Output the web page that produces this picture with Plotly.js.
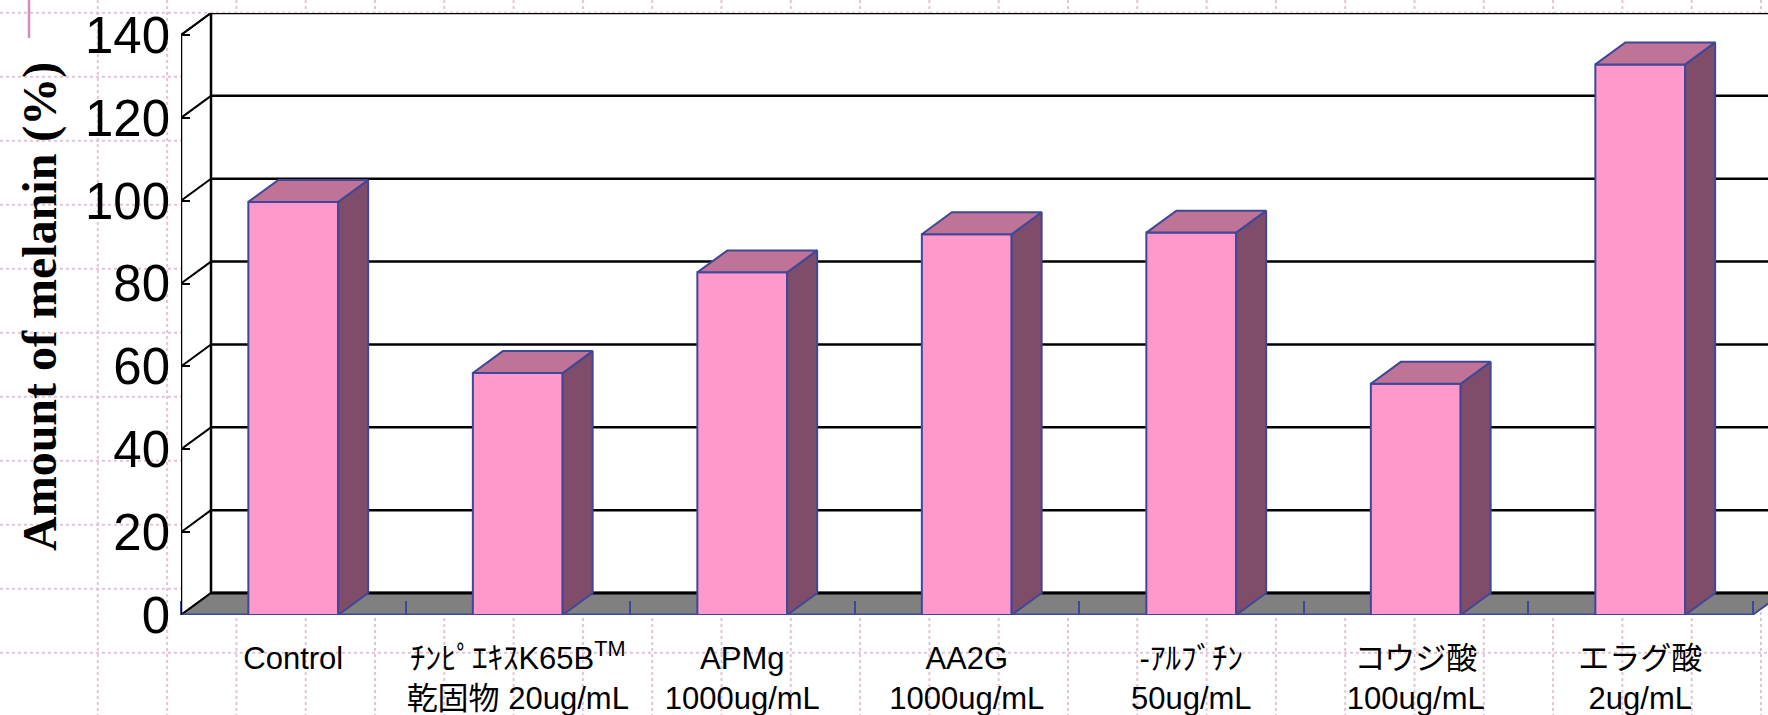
<!DOCTYPE html>
<html>
<head>
<meta charset="utf-8">
<script src="https://cdn.plot.ly/plotly-3.0.1.min.js"></script>
<style>html,body{margin:0;padding:0;background:#fff;}#chart{width:1768px;height:715px;}</style>
</head>
<body>
<div id="chart"></div>
<script>
// ---- data ----
const categories = ['Control', 'ﾁﾝﾋﾟｴｷｽK65B<sup>TM</sup>', 'APMg', 'AA2G', '-ｱﾙﾌﾞﾁﾝ', 'コウジ酸', 'エラグ酸'];
const doses = ['', '乾固物 20ug/mL', '1000ug/mL', '1000ug/mL', '50ug/mL', '100ug/mL', '2ug/mL'];
const melanin = [99.7, 58.4, 82.7, 91.9, 92.3, 55.8, 132.9];
const yTicks = [0, 20, 40, 60, 80, 100, 120, 140];

// ---- geometry / style ----
const W = 1768, H = 715;
const ML = 181, MR = 0, MT = 13, MB = 100;
const plotW = W - ML - MR, plotH = H - MT - MB;
const catPx = 224.5;
const YMAX = 140;
const DX = 30 / catPx;          // depth offset in x units
const DY = 5.3;                 // depth offset in y units
const yTop = YMAX + DY;
const xMaxRange = plotW / catPx;
const N = categories.length;
const BW = 0.4;

const FRONT = '#FF99CC', TOP = '#BF7396', SIDE = '#7F4D69', EDGE = '#3F4896';
const FONT = 'Liberation Sans, Arial, Noto Sans CJK JP, sans-serif';

const xc = categories.map((_, i) => i + 0.5);
const tickText = categories.map((c, i) => doses[i] ? c + '<br>' + doses[i] : c);

// top and side faces from the values
const topX = [], topY = [], sideX = [], sideY = [];
melanin.forEach((v, i) => {
  const l = xc[i] - BW / 2, r = xc[i] + BW / 2;
  topX.push(l, r, r + DX, l + DX, l, null);
  topY.push(v, v, v + DY, v + DY, v, null);
  sideX.push(r, r + DX, r + DX, r, r, null);
  sideY.push(0, DY, v + DY, v, 0, null);
});

const traces = [
  {type: 'scatter', mode: 'lines', x: sideX, y: sideY, fill: 'toself', fillcolor: SIDE,
   line: {color: EDGE, width: 2}, hoverinfo: 'skip', showlegend: false},
  {type: 'scatter', mode: 'lines', x: topX, y: topY, fill: 'toself', fillcolor: TOP,
   line: {color: EDGE, width: 2}, hoverinfo: 'skip', showlegend: false},
  {type: 'bar', x: xc, y: melanin, width: BW, marker: {color: FRONT, line: {color: EDGE, width: 2}},
   showlegend: false, hoverinfo: 'y'}
];

// ---- decorative background grid (paper) ----
const shapes = [];
const px2x = px => (px - ML) / plotW;
const py2y = py => (H - MB - py) / plotH;
const gridCol = 'rgba(220,180,205,0.8)';
for (let px = 28.5 + 69.3; px < W; px += 69.3) {
  shapes.push({type: 'line', xref: 'paper', yref: 'paper', x0: px2x(px), x1: px2x(px), y0: py2y(0), y1: py2y(H),
    line: {color: gridCol, width: 2, dash: 'dot'}, layer: 'below'});
}
for (let py = 12.7; py < H; py += 64) {
  shapes.push({type: 'line', xref: 'paper', yref: 'paper', x0: px2x(0), x1: px2x(W), y0: py2y(py), y1: py2y(py),
    line: {color: gridCol, width: 2, dash: 'dot'}, layer: 'below'});
}
shapes.push({type: 'line', xref: 'paper', yref: 'paper', x0: px2x(29), x1: px2x(29), y0: py2y(0), y1: py2y(38),
  line: {color: '#D58DB8', width: 2.5}, layer: 'below'});

// ---- 3D walls ----
shapes.push({type: 'path', xref: 'x', yref: 'y',
  path: `M0,0 L${DX},${DY} L${DX},${YMAX + DY} L0,${YMAX} Z`,
  fillcolor: '#FFFFFF', line: {color: '#000', width: 2}, layer: 'below'});
shapes.push({type: 'rect', xref: 'x', yref: 'y', x0: DX, x1: N + DX, y0: DY, y1: YMAX + DY,
  fillcolor: '#FFFFFF', line: {color: '#000', width: 2.5}, layer: 'below'});
yTicks.forEach(v => {
  if (v > 0 && v < YMAX) {
    shapes.push({type: 'line', xref: 'x', yref: 'y', x0: DX, x1: N + DX, y0: v + DY, y1: v + DY,
      line: {color: '#000', width: 2.5}, layer: 'below'});
  }
  if (v > 0) {
    shapes.push({type: 'line', xref: 'x', yref: 'y', x0: 0, x1: DX, y0: v, y1: v + DY,
      line: {color: '#000', width: 2}, layer: 'below'});
  }
});
// floor
shapes.push({type: 'path', xref: 'x', yref: 'y',
  path: `M0,0 L${N},0 L${N + DX},${DY} L${DX},${DY} Z`,
  fillcolor: '#808080', line: {width: 0}, layer: 'below'});
shapes.push({type: 'line', xref: 'x', yref: 'y', x0: DX, x1: N + DX, y0: DY, y1: DY,
  line: {color: '#000', width: 3}, layer: 'below'});
shapes.push({type: 'line', xref: 'x', yref: 'y', x0: 0, x1: DX, y0: 0, y1: DY,
  line: {color: '#000', width: 2}, layer: 'below'});
shapes.push({type: 'line', xref: 'x', yref: 'y', x0: N, x1: N + DX, y0: 0, y1: DY,
  line: {color: EDGE, width: 2}, layer: 'below'});
shapes.push({type: 'line', xref: 'x', yref: 'y', x0: 0, x1: N, y0: 0, y1: 0,
  line: {color: EDGE, width: 3}, layer: 'below'});
// front value axis
shapes.push({type: 'line', xref: 'x', yref: 'y', x0: 0, x1: 0, y0: 0, y1: YMAX,
  line: {color: '#000', width: 2.5}, layer: 'above'});

const layout = {
  width: W, height: H,
  margin: {l: ML, r: MR, t: MT, b: MB, pad: 0},
  paper_bgcolor: '#FFFFFF', plot_bgcolor: 'rgba(0,0,0,0)',
  showlegend: false,
  xaxis: {
    range: [0, xMaxRange], showgrid: false, zeroline: false, showline: false,
    tickmode: 'array', tickvals: xc, ticktext: tickText, ticks: '',
    tickfont: {family: FONT, size: 31, color: '#000'},
    ticklabelstandoff: 22,
    minor: {tickmode: 'linear', tick0: 0, dtick: 1, ticks: 'inside', ticklen: 14, tickwidth: 2, tickcolor: EDGE, showgrid: false},
    fixedrange: true
  },
  yaxis: {
    range: [0, yTop], showgrid: false, zeroline: false, showline: false,
    tickmode: 'array', tickvals: yTicks, ticktext: yTicks.map(String),
    ticks: 'inside', ticklen: 9, tickwidth: 2, tickcolor: '#000',
    tickfont: {family: FONT, size: 51, color: '#000'},
    ticklabelstandoff: 10,
    fixedrange: true
  },
  shapes: shapes,
  annotations: [{
    text: '<b>Amount of melanin (%)</b>', xref: 'paper', yref: 'paper',
    x: px2x(40), y: py2y(307), xanchor: 'center', yanchor: 'middle', textangle: -90,
    showarrow: false, font: {family: 'Liberation Serif, Times New Roman, serif', size: 48, color: '#000'}
  }],
  bargap: 0
};

Plotly.newPlot('chart', traces, layout, {displayModeBar: false, staticPlot: true});
</script>
</body>
</html>
